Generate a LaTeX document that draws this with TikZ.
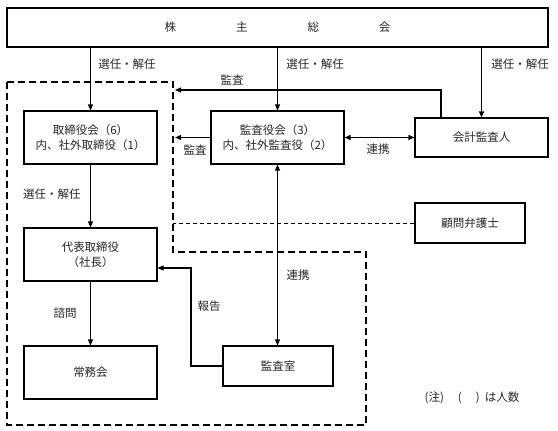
\documentclass[tikz,border=0pt]{standalone}
\usepackage{fontspec}
\setmainfont{Noto Sans CJK JP}
\usetikzlibrary{arrows.meta}
\newcommand{\jpsz}{\fontsize{11.5}{15}\selectfont}
\begin{document}
\begin{tikzpicture}[x=1pt,y=-1pt,
  box/.style={draw, line width=1.1pt, inner sep=0pt, align=center, font=\jpsz, text=black!85},
  conn/.style={line width=1.1pt},
  arr/.style={conn, -{Triangle[length=6pt,width=5pt]}},
  darr/.style={conn, {Triangle[length=6pt,width=5pt]}-{Triangle[length=6pt,width=5pt]}},
  lbl/.style={font=\jpsz, text=black!85, inner sep=0pt},
  region/.style={line width=1.5pt, dash pattern=on 7pt off 4pt},
  thindash/.style={line width=0.9pt, dash pattern=on 4pt off 3pt}]
\fill[white] (0,0) rectangle (558,431);
\useasboundingbox (0,0) rectangle (558,431);

% dashed company region
\draw[region] (7,82) -- (173,82) -- (173,252) -- (366,252) -- (366,425) -- (7,425) -- cycle;

% boxes
\node[box, minimum width=541pt, minimum height=39pt] (top) at (277.5,27.5) {株\hspace{60pt}主\hspace{60pt}総\hspace{60pt}会};
\node[box, minimum width=133pt, minimum height=53pt] (tb) at (90.5,137.5) {取締役会（6）\\内、社外取締役（1）};
\node[box, minimum width=133pt, minimum height=53pt] (kb) at (277.5,137.5) {監査役会（3）\\内、社外監査役（2）};
\node[box, minimum width=133pt, minimum height=39pt] (ka) at (481.5,137.5) {会計監査人};
\node[box, minimum width=110pt, minimum height=40pt] (ko) at (470,223) {顧問弁護士};
\node[box, minimum width=133pt, minimum height=53pt] (dh) at (90.5,254.5) {代表取締役\\（社長）};
\node[box, minimum width=133pt, minimum height=53pt] (jm) at (90.5,372.5) {常務会};
\node[box, minimum width=110pt, minimum height=40pt] (ks) at (278,366) {監査室};

% connectors
\draw[arr] (top.south -| tb.north) -- (tb.north);
\draw[arr] (top.south -| kb.north) -- (kb.north);
\draw[arr] (top.south -| ka.north) -- (ka.north);

\coordinate (audTip) at (175,90);
\draw[arr] ([xshift=-40.5pt]ka.north) |- (audTip);
\coordinate (audTip2) at (175,137.5);
\draw[arr] (kb.west) -- (audTip2);
\draw[darr] (kb.east) -- (ka.west);
\coordinate (koEnd) at (173,223);
\draw[thindash] (ko.west) -- (koEnd);
\draw[arr] (tb.south) -- (dh.north);
\draw[arr] (dh.south) -- (jm.north);
\coordinate (repIn) at ([yshift=-13.5pt]dh.east);
\coordinate (rb) at (191,0);
\draw[arr] (ks.west) -| (rb |- repIn) -- (repIn);
\draw[darr] (kb.south) -- (kb.south |- ks.north);

% labels
\node[lbl] (l1) at (127,64) {選任・解任};
\node[lbl] (l2) at (315,64) {選任・解任};
\node[lbl] (l3) at (520,64) {選任・解任};
\node[lbl] (l4) at (232,80) {監査};
\node[lbl] (l5) at (195,150) {監査};
\node[lbl] (l6) at (378,149) {連携};
\node[lbl] (l7) at (52,194) {選任・解任};
\node[lbl] (l8) at (65,313) {諮問};
\node[lbl] (l9) at (209,306) {報告};
\node[lbl] (l10) at (298,275) {連携};
\node[lbl] (note) at (472,398) {(注)\hspace{14pt}(\hspace{14pt})\hspace{5pt}は人数};
\end{tikzpicture}
\end{document}
